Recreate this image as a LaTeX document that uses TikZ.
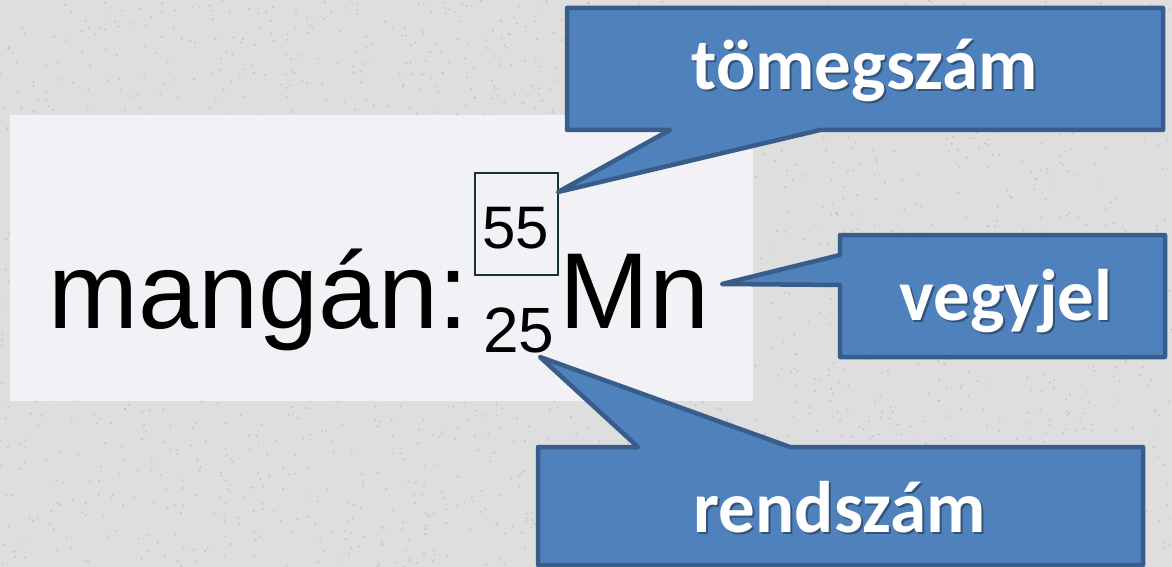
\documentclass[tikz,border=0pt]{standalone}
\usepackage{fontspec}
\setmainfont{Liberation Sans}
\newfontfamily\calloutfont{Carlito}
\definecolor{bgcol}{HTML}{DEDEDE}
\definecolor{speck}{HTML}{A8A8A8}
\definecolor{panelcol}{HTML}{F1F1F6}
\definecolor{callfill}{HTML}{4F81BD}
\definecolor{calldraw}{HTML}{385D8A}
\definecolor{boxline}{HTML}{1A3333}
\tikzset{
  callout/.style={fill=callfill, draw=calldraw, line width=4.5pt, line join=round},
  calltext/.style={font=\calloutfont\bfseries\fontsize{73}{80}\selectfont, text=white, inner sep=0pt, anchor=base},
  callshadow/.style={font=\calloutfont\bfseries\fontsize{73}{80}\selectfont, text=black, text opacity=0.35, inner sep=0pt, anchor=base},
  bigtext/.style={font=\fontsize{108}{120}\selectfont, inner sep=0pt, anchor=base west},
  smalltext/.style={inner sep=0pt, anchor=base}
}
\begin{document}
\begin{tikzpicture}[x=1pt,y=-1pt]
\useasboundingbox (0,0) rectangle (1172,567);
\fill[bgcol] (0,0) rectangle (1172,567);
\pgfmathsetseed{7}
\foreach \i in {1,...,2500}{
  \pgfmathsetmacro{\px}{rnd*1172}
  \pgfmathsetmacro{\py}{rnd*567}
  \fill[speck, opacity=0.45] (\px,\py) circle (1.1pt);
}
\fill[panelcol] (10,115) rectangle (753,401);
% formula
\node[bigtext] (name) at (48,328) {mangán:};
\node[bigtext] (mn) at (559,328) {Mn};
\node[draw=boxline, line width=2.2pt, minimum width=83pt, minimum height=102pt, inner sep=0pt] (massbox) at (516.5,224) {};
\node[smalltext, font=\fontsize{60}{66}\selectfont] (mass) at (516,248) {55};
\node[smalltext, font=\fontsize{64}{70}\selectfont] (atomic) at (519,352) {25};
% tip coordinates
\coordinate (tipmass) at (558,192);
\coordinate (tipsym) at (722,284);
\coordinate (tipnum) at (540,357);
% callouts
\draw[callout] (567,8) -- (1163,8) -- (1163,130) -- (820,130) -- (tipmass) -- (670,130) -- (567,130) -- cycle;
\draw[callout] (840,235) -- (1165,235) -- (1165,357) -- (840,357) -- (840,285) -- (tipsym) -- (840,255) -- cycle;
\draw[callout] (538,447) -- (638,447) -- (tipnum) -- (790,447) -- (1143,447) -- (1143,565) -- (538,565) -- cycle;
% callout texts
\node[callshadow] at (867,92) {tömegszám};
\node[calltext] (t1) at (865,90) {tömegszám};
\node[callshadow] at (1008,322) {vegyjel};
\node[calltext] (t2) at (1006,320) {vegyjel};
\node[callshadow] at (842,534) {rendszám};
\node[calltext] (t3) at (840,532) {rendszám};
\end{tikzpicture}
\end{document}
